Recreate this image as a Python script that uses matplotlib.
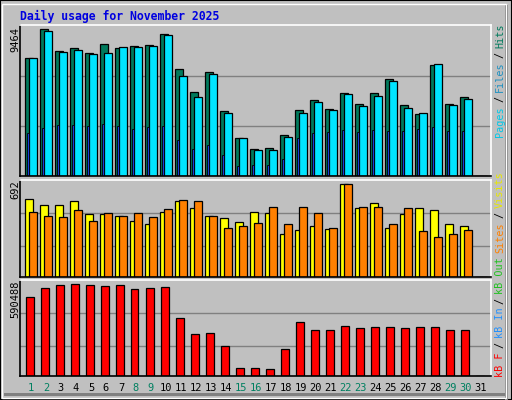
import matplotlib
matplotlib.use("Agg")
import matplotlib.pyplot as plt
from matplotlib.patches import Rectangle

days = list(range(1, 32))
day_labels = [str(d) for d in days]
weekend_days = [1, 2, 8, 9, 15, 16, 22, 23, 29, 30]

hits = [7647, 9464, 8088, 8278, 7962, 8530, 8278, 8404, 8467, 9161, 6890, 5439, 6700, 4240, 2473,
        1779, 1842, 2662, 4303, 4934, 4366, 5375, 4681, 5375, 6259, 4618, 4050, 7142, 4681, 5123, 0]
files = [7599, 9335, 7985, 8114, 7856, 7921, 8306, 8306, 8371, 9078, 6442, 5092, 6570, 4063, 2456,
         1684, 1684, 2520, 4063, 4770, 4256, 5285, 4513, 5156, 6120, 4385, 4063, 7213, 4577, 4963, 0]
pages = [2797, 3118, 3292, 3292, 3227, 3356, 3227, 3035, 3163, 3227, 2327, 1749, 2006, 1363, 656,
         720, 720, 1106, 2456, 2777, 2842, 2970, 2842, 2970, 2906, 2906, 3035, 3163, 2906, 2906, 0]
visits = [579, 534, 534, 564, 466, 466, 451, 414, 391, 481, 564, 511, 451, 436, 406,
          481, 474, 316, 346, 376, 353, 692, 511, 549, 361, 466, 511, 496, 391, 376, 0]
sites = [481, 451, 444, 496, 414, 474, 451, 474, 444, 504, 572, 564, 451, 361, 376,
         399, 519, 391, 519, 474, 361, 692, 519, 519, 391, 511, 338, 293, 316, 346, 0]
kbytes = [506425, 564610, 584005, 590488, 584005, 577540, 584005, 558145, 564610, 571075, 370660,
          267220, 273685, 189640, 53875, 53875, 47410, 170245, 344800, 293080, 293080, 318940,
          306010, 312475, 312475, 306010, 312475, 312475, 293080, 293080, 0]

W, H = 512, 400
fig = plt.figure(figsize=(W / 100, H / 100), dpi=100)
fig.patch.set_facecolor("#C0C0C0")
mono = "DejaVu Sans Mono"

fig.add_artist(Rectangle((0, 0), 1, 1, transform=fig.transFigure, fill=False, ec="black", lw=1.5))
fig.add_artist(Rectangle((505 / W, 0), 3 / W, 1 - 5 / H, transform=fig.transFigure, fc="#808080", ec="none"))
fig.add_artist(Rectangle((4 / W, 4 / H), 504 / W, 3 / H, transform=fig.transFigure, fc="#808080", ec="none"))
fig.add_artist(Rectangle((2 / W, 2 / H), 504 / W, 394 / H, transform=fig.transFigure, fill=False, ec="white", lw=1))

def make_ax(top_px, bot_px):
    ax = fig.add_axes([20 / W, 1 - bot_px / H, 471 / W, (bot_px - top_px) / H])
    ax.set_facecolor("#C0C0C0")
    ax.set_xlim(0.27, 31.67)
    ax.set_xticks([])
    ax.set_yticks([])
    for s in ("left", "bottom"):
        ax.spines[s].set_color("black")
    for s in ("top", "right"):
        ax.spines[s].set_color("white")
    for s in ax.spines.values():
        s.set_linewidth(1.2)
    return ax

x = days
ek = dict(edgecolor="black", linewidth=0.9, align="edge")

ax1 = make_ax(25, 176.5)
ax1.set_ylim(0, 9740)
for g in (3215, 6430):
    ax1.axhline(g, color="#808080", lw=1, zorder=0)
ax1.bar([d - 0.38 for d in x], hits, width=0.49, color="#007A5C", **ek)
ax1.bar([d - 0.11 for d in x], files, width=0.49, color="#00E4FF", **ek)
ax1.bar([d - 0.29 for d in x], pages, width=0.17, color="#1840D8", edgecolor="black", linewidth=0.6, align="edge")

ax2 = make_ax(180, 276.5)
ax2.set_ylim(0, 722)
for g in (226, 474):
    ax2.axhline(g, color="#808080", lw=1, zorder=0)
ax2.bar([d - 0.38 for d in x], visits, width=0.49, color="#FFFF00", **ek)
ax2.bar([d - 0.11 for d in x], sites, width=0.49, color="#FF8000", **ek)

ax3 = make_ax(280, 376)
ax3.set_ylim(0, 616330)
for g in (189640, 403000):
    ax3.axhline(g, color="#808080", lw=1, zorder=0)
ax3.bar([d - 0.3 for d in x], kbytes, width=0.47, color="#FF0000", **ek)

for d, lab in zip(days, day_labels):
    col = "#008060" if d in weekend_days else "black"
    ax3.text(d, -0.07, lab, transform=ax3.get_xaxis_transform(), ha="center", va="top",
             fontsize=7.5, family=mono, color=col)

fig.text(20 / W, 1 - 16 / H, "Daily usage for November 2025", fontsize=8.3, family=mono,
         fontweight="bold", color="#0000E0", va="center", ha="left")

for yp, s in ((27, "9464"), (180, "692"), (281, "590488")):
    fig.text(15 / W, 1 - yp / H, s, rotation=90, fontsize=7.5, family=mono, ha="center", va="top")

renderer = fig.canvas.get_renderer()

def vstack(pieces, y_bottom_px, xp=500):
    y = y_bottom_px
    for txt, col in pieces:
        t = fig.text(xp / W, 1 - y / H, txt, rotation=90, fontsize=7.3, family=mono, color=col,
                     ha="center", va="bottom")
        bb = t.get_window_extent(renderer)
        y -= bb.height + 4

vstack([("Pages", "#00C8E8"), ("/", "black"), ("Files", "#1E90C0"), ("/", "black"), ("Hits", "#007A5C")], 137)
vstack([("kB F", "#FF0000"), ("/", "black"), ("kB In", "#2090FF"), ("/", "black"),
        ("kB Out", "#20C020"), ("Sites", "#FF8000"), ("/", "black"), ("Visits", "#E8E800")], 377)

fig.savefig("out.png", dpi=100, facecolor=fig.get_facecolor())
